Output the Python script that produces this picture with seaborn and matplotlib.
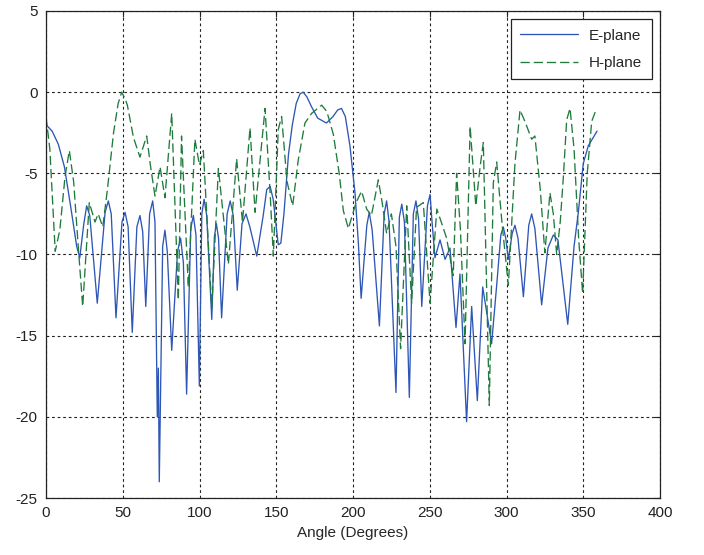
import numpy as np
import pandas as pd
import matplotlib
matplotlib.use("Agg")
import matplotlib.pyplot as plt
import seaborn as sns

# E-plane pattern: angle (deg) and normalised gain (dB)
e_angle = [0, 4, 8, 12, 16, 20, 22, 24.5, 26.5, 28.5, 33.4, 38.5, 40.6, 42.5, 45.6,
           49.5, 51.5, 53.5, 56.2, 59.2, 61.2, 63, 65, 67.5, 69.5, 71, 72.5, 73.2,
           73.8, 76, 77.5, 79, 81.9, 85.7, 87.7, 89.5, 91.6, 94.3, 96, 97.7, 99.9,
           101.5, 103, 104.7, 108, 109.7, 111, 112.4, 114.4, 118, 120, 122, 124.6,
           127.7, 130.3, 132.8, 137.3, 141.5, 143.8, 146, 148, 151.3, 153, 155, 158,
           160.5, 163, 165.5, 167.6, 170, 173, 177, 182.7, 187, 190, 192.5, 195,
           198, 201.3, 203.5, 205.3, 209, 210.6, 212.5, 217.2, 220.3, 221.9, 223.5,
           228, 230.2, 231.8, 233.5, 236.7, 239.3, 241, 242.7, 244.8, 248.5, 250.2,
           251.5, 253.4, 256.7, 260, 263.2, 267.1, 269.7, 274, 277.3, 281, 284.5,
           290.3, 293.6, 296.3, 297.9, 299.5, 301.2, 303.7, 305.5, 307.5, 311,
           314.5, 316.4, 318.5, 322.9, 327, 330.5, 333.5, 339.9, 344, 346.8, 350,
           353.3, 359]
e_gain = [-2.0, -2.4, -3.2, -4.6, -7.0, -9.5, -10.2, -8.2, -7.0, -7.6, -13.0, -7.4,
          -6.7, -7.5, -13.9, -8.0, -7.4, -8.3, -14.8, -8.3, -7.6, -8.6, -13.2, -7.5,
          -6.7, -8.0, -20.0, -17.0, -24.0, -9.5, -8.5, -9.8, -15.9, -9.8, -9.0,
          -10.5, -18.6, -8.4, -7.6, -8.8, -18.1, -7.5, -6.6, -7.6, -14.0, -8.9,
          -8.1, -9.0, -13.9, -7.5, -6.7, -7.6, -12.2, -8.1, -7.5, -8.3, -10.1, -7.6,
          -6.0, -5.8, -6.6, -9.4, -9.3, -7.5, -3.8, -2.0, -0.7, -0.1, 0.0, -0.3,
          -0.9, -1.6, -1.9, -1.5, -1.1, -1.0, -1.5, -3.3, -6.2, -9.3, -12.7, -8.2,
          -7.4, -8.5, -14.4, -7.5, -6.7, -8.0, -18.5, -7.7, -6.9, -8.0, -18.8, -7.5,
          -6.7, -7.8, -13.2, -7.0, -6.3, -8.0, -10.2, -9.1, -10.3, -9.6, -14.5,
          -11.2, -20.3, -13.2, -19.0, -12.0, -15.5, -11.9, -8.8, -8.3, -9.0, -10.3,
          -8.7, -8.2, -9.0, -12.6, -8.2, -7.5, -8.4, -13.1, -9.6, -8.8, -9.1, -14.3,
          -9.5, -7.4, -4.4, -3.3, -2.4]

# H-plane pattern: angle (deg) and normalised gain (dB)
h_angle = [0, 2.5, 6, 9, 12.4, 15.2, 18, 21, 23.9, 28.2, 31.9, 34, 37, 40, 44, 47,
           49.3, 51.5, 53, 57, 61.2, 65.6, 68, 71, 74.3, 77.5, 81.9, 86.2, 88.3,
           92.7, 97, 100, 102.5, 108, 112.3, 118.8, 124.2, 128, 132.9, 136.2, 142.7,
           146, 148.1, 151.3, 153.5, 157, 160.7, 164.3, 168.7, 173.1, 179.6, 183,
           187.2, 191, 193.7, 197, 202, 205.6, 208.9, 212, 216.5, 219, 221.9, 225,
           228, 231, 235, 238.2, 241.4, 245.8, 250.2, 254.6, 257.5, 261, 265.3,
           267.5, 270, 273, 276.3, 280, 282.8, 284.9, 288.8, 291.4, 293.6, 297,
           301.2, 305.5, 308.8, 312, 316.4, 318.5, 322, 325, 328.3, 330.5, 332.7,
           335, 337, 339.2, 341.4, 344, 347, 349.6, 352.6, 355.5, 358.7]
h_gain = [-1.5, -3.5, -9.8, -8.5, -5.2, -3.6, -5.5, -9.5, -13.2, -6.8, -8.0, -7.5,
          -8.3, -6.0, -2.5, -0.7, 0.0, -0.4, -0.8, -2.8, -4.0, -2.7, -4.5, -6.4,
          -4.6, -6.5, -1.3, -12.8, -2.7, -12.0, -2.9, -4.5, -3.6, -13.3, -4.7,
          -10.6, -4.1, -8.0, -2.2, -7.4, -1.0, -6.2, -10.1, -2.3, -1.5, -5.5, -7.0,
          -4.2, -1.9, -1.3, -0.8, -1.2, -2.6, -5.0, -7.3, -8.4, -6.8, -6.1, -7.2,
          -7.6, -5.4, -6.8, -8.7, -7.5, -9.5, -15.8, -7.0, -13.0, -7.1, -6.8,
          -13.0, -7.2, -8.0, -9.0, -11.3, -5.0, -8.5, -15.5, -2.1, -7.0, -4.6,
          -3.1, -19.3, -5.6, -4.3, -8.0, -11.9, -4.4, -1.1, -1.8, -2.9, -2.7, -6.0,
          -9.9, -6.2, -7.5, -10.0, -8.0, -5.3, -1.7, -1.0, -3.5, -9.0, -12.4, -5.0,
          -1.8, -1.0]

x_ticks = [0, 50, 100, 150, 200, 250, 300, 350, 400]
y_ticks = [5, 0, -5, -10, -15, -20, -25]

sns.set_style("white")
plt.rcParams["font.family"] = ["Liberation Sans", "DejaVu Sans"]
plt.rcParams["axes.unicode_minus"] = False

df = pd.concat([
    pd.DataFrame({"angle": e_angle, "gain": e_gain, "plane": "E-plane"}),
    pd.DataFrame({"angle": h_angle, "gain": h_gain, "plane": "H-plane"}),
], ignore_index=True)

fig = plt.figure(figsize=(7.04, 5.55), dpi=100)
ax = fig.add_axes([46 / 704, 1 - 498 / 555, 614 / 704, 487 / 555])

sns.lineplot(data=df, x="angle", y="gain", hue="plane", style="plane",
             palette={"E-plane": "#2d56b5", "H-plane": "#1e7b3c"},
             dashes={"E-plane": "", "H-plane": (7, 3)},
             estimator=None, sort=False, linewidth=0.95, ax=ax)

ax.set_xlim(0, 400)
ax.set_ylim(-25, 5)
ax.set_xticks(x_ticks)
ax.set_yticks(y_ticks)
ax.grid(True, color="#222222", linestyle=(0, (2.5, 2.5)), linewidth=0.8)
ax.tick_params(direction="in", top=True, right=True, length=4, width=0.8,
               labelsize=11, colors="#222222", pad=6)
for sp in ax.spines.values():
    sp.set_color("#222222")
    sp.set_linewidth(0.9)
ax.set_xlabel("Angle (Degrees)", fontsize=11, labelpad=4)
ax.set_ylabel("")

handles, labels = ax.get_legend_handles_labels()
leg = ax.legend(handles, labels, loc="upper right", fontsize=11,
                frameon=True, fancybox=False, edgecolor="#222222",
                borderaxespad=0.55, borderpad=0.6, labelspacing=0.9,
                handlelength=3.8, handletextpad=0.7, framealpha=1)
leg.get_frame().set_linewidth(0.9)

fig.savefig("out.png", dpi=100)
